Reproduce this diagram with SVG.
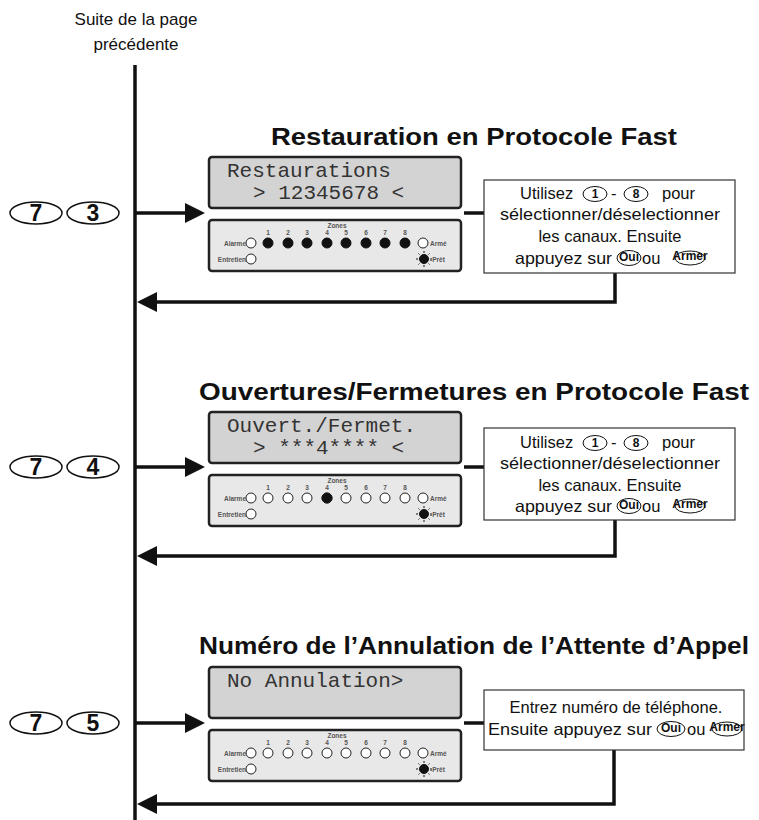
<svg xmlns="http://www.w3.org/2000/svg" xmlns:xlink="http://www.w3.org/1999/xlink" width="759" height="820" viewBox="0 0 759 820">
<style>
.t{font-family:"Liberation Sans",Arial,sans-serif;fill:#111}
.title{font-family:"Liberation Sans",Arial,sans-serif;font-weight:bold;font-size:23px;fill:#111}
.lcd{fill:#d3d3d3;stroke:#222;stroke-width:2.5}
.lcdt{font-family:"Liberation Mono","DejaVu Sans Mono",monospace;font-size:21px;fill:#333}
.pan{fill:#e8e8e8;stroke:#222;stroke-width:2.5}
.sm{font-family:"Liberation Sans",Arial,sans-serif;font-weight:bold;font-size:6.5px;fill:#555}
.led{fill:#fff;stroke:#222;stroke-width:1}
.on{fill:#111;stroke:#111;stroke-width:1}
.box{fill:#fff;stroke:#333;stroke-width:1.2}
.bt{font-family:"Liberation Sans",Arial,sans-serif;font-size:16.5px;fill:#111}
.key{fill:#fff;stroke:#111;stroke-width:1.5}
.kt{font-family:"Liberation Sans",Arial,sans-serif;font-weight:bold;font-size:23px;fill:#111;text-anchor:middle}
.ok{fill:#fff;stroke:#111;stroke-width:1}
.okt{font-family:"Liberation Sans",Arial,sans-serif;font-weight:bold;font-size:12px;fill:#111;text-anchor:middle}
.line{stroke:#111;stroke-width:3.5;fill:none}
.ah{fill:#111}
</style>
<defs>
<g id="panelbase">
<rect class="pan" x="0" y="0" width="252" height="51" rx="3"/>
<text class="sm" x="128" y="8" text-anchor="middle">Zones</text>
<g class="sm" text-anchor="middle">
<text x="59" y="15">1</text><text x="79" y="15">2</text><text x="98" y="15">3</text><text x="118" y="15">4</text>
<text x="137" y="15">5</text><text x="157" y="15">6</text><text x="176" y="15">7</text><text x="196" y="15">8</text>
</g>
<circle class="led" cx="42" cy="23" r="5"/>
<text class="sm" x="37" y="25.5" text-anchor="end">Alarme</text>
<circle class="led" cx="214" cy="23" r="5"/>
<text class="sm" x="221" y="25.5">Armé</text>
<circle class="led" cx="42" cy="39" r="5"/>
<text class="sm" x="37" y="41.5" text-anchor="end">Entretien</text>
<circle class="on" cx="215" cy="39" r="4.5"/>
<g stroke="#111" stroke-width="1">
<line x1="215" y1="31" x2="215" y2="33"/><line x1="215" y1="45" x2="215" y2="47"/>
<line x1="207" y1="39" x2="209" y2="39"/><line x1="221" y1="39" x2="223" y2="39"/>
<line x1="209.5" y1="33.5" x2="210.5" y2="34.5"/><line x1="219.5" y1="43.5" x2="220.5" y2="44.5"/>
<line x1="220.5" y1="33.5" x2="219.5" y2="34.5"/><line x1="209.5" y1="44.5" x2="210.5" y2="43.5"/>
</g>
<text class="sm" x="221" y="41.5">-Prêt</text>
</g>
<g id="ledsoff">
<circle class="led" cx="59" cy="23" r="5"/><circle class="led" cx="79" cy="23" r="5"/><circle class="led" cx="98" cy="23" r="5"/><circle class="led" cx="118" cy="23" r="5"/>
<circle class="led" cx="137" cy="23" r="5"/><circle class="led" cx="157" cy="23" r="5"/><circle class="led" cx="176" cy="23" r="5"/><circle class="led" cx="196" cy="23" r="5"/>
</g>
</defs>

<g id="header">
<text class="t" x="136" y="25" font-size="17" text-anchor="middle">Suite de la page</text>
<text class="t" x="136" y="50" font-size="17" text-anchor="middle">précédente</text>
</g>

<g id="connectors">
<line class="line" x1="135" y1="65" x2="135" y2="820"/>
<line class="line" x1="135" y1="213" x2="190" y2="213"/>
<polygon class="ah" points="185,203 205,213 185,223"/>
<line class="line" x1="464" y1="213" x2="484" y2="213"/>
<polyline class="line" points="615,273 615,302 150,302"/>
<polygon class="ah" points="157,292 137,302 157,312"/>
<line class="line" x1="135" y1="467" x2="190" y2="467"/>
<polygon class="ah" points="185,457 205,467 185,477"/>
<line class="line" x1="464" y1="467" x2="484" y2="467"/>
<polyline class="line" points="615,520 615,556 150,556"/>
<polygon class="ah" points="157,546 137,556 157,566"/>
<line class="line" x1="135" y1="723" x2="190" y2="723"/>
<polygon class="ah" points="185,713 205,723 185,733"/>
<line class="line" x1="464" y1="723" x2="484" y2="723"/>
<polyline class="line" points="614,750 614,804 150,804"/>
<polygon class="ah" points="157,794 137,804 157,814"/>
</g>

<g id="keys73">
<ellipse class="key" cx="36" cy="213" rx="26" ry="11"/><text class="kt" x="36" y="221">7</text>
<ellipse class="key" cx="93" cy="213" rx="26" ry="11"/><text class="kt" x="93" y="221">3</text>
</g>
<g id="title1"><text class="title" x="474" y="145" text-anchor="middle" textLength="406" lengthAdjust="spacingAndGlyphs">Restauration en Protocole Fast</text></g>
<g id="lcd1">
<rect class="lcd" x="209" y="157" width="252" height="51" rx="3"/>
<text class="lcdt" x="227" y="177">Restaurations</text>
<text class="lcdt" x="253" y="199">&gt; 12345678 &lt;</text>
</g>
<g id="panel1" transform="translate(209,220)">
<use href="#panelbase" xlink:href="#panelbase"/>
<g class="on"><circle cx="59" cy="23" r="5"/><circle cx="79" cy="23" r="5"/><circle cx="98" cy="23" r="5"/><circle cx="118" cy="23" r="5"/>
<circle cx="137" cy="23" r="5"/><circle cx="157" cy="23" r="5"/><circle cx="176" cy="23" r="5"/><circle cx="196" cy="23" r="5"/></g>
</g>
<g id="box1">
<rect class="box" x="484" y="180" width="251" height="93"/>
<text class="bt" x="520" y="199">Utilisez</text>
<ellipse class="ok" cx="595" cy="194" rx="12" ry="7.5"/><text class="okt" x="595" y="198">1</text>
<text class="bt" x="611" y="199">-</text>
<ellipse class="ok" cx="636" cy="194" rx="12" ry="7.5"/><text class="okt" x="636" y="198">8</text>
<text class="bt" x="662" y="199">pour</text>
<text class="bt" x="610" y="220" text-anchor="middle" textLength="220" lengthAdjust="spacingAndGlyphs">sélectionner/déselectionner</text>
<text class="bt" x="610" y="242" text-anchor="middle">les canaux. Ensuite</text>
<text class="bt" x="515" y="264" textLength="97" lengthAdjust="spacingAndGlyphs">appuyez sur</text>
<ellipse class="ok" cx="629" cy="258" rx="12" ry="7.5"/><text class="okt" x="629" y="260.5" font-size="7">Oui</text>
<text class="bt" x="642" y="264">ou</text>
<ellipse class="ok" cx="690" cy="258" rx="15" ry="7"/><text class="okt" x="690" y="260" font-size="6">Armer</text>
</g>

<g id="keys74">
<ellipse class="key" cx="36" cy="467" rx="26" ry="11"/><text class="kt" x="36" y="475">7</text>
<ellipse class="key" cx="93" cy="467" rx="26" ry="11"/><text class="kt" x="93" y="475">4</text>
</g>
<g id="title2"><text class="title" x="474" y="400" text-anchor="middle" textLength="550" lengthAdjust="spacingAndGlyphs">Ouvertures/Fermetures en Protocole Fast</text></g>
<g id="lcd2">
<rect class="lcd" x="209" y="412" width="252" height="51" rx="3"/>
<text class="lcdt" x="227" y="432">Ouvert./Fermet.</text>
<text class="lcdt" x="253" y="454">&gt; ***4**** &lt;</text>
</g>
<g id="panel2" transform="translate(209,475)">
<use href="#panelbase" xlink:href="#panelbase"/>
<use href="#ledsoff" xlink:href="#ledsoff"/>
<circle class="on" cx="118" cy="23" r="5"/>
</g>
<g id="box2">
<rect class="box" x="484" y="428" width="251" height="92"/>
<text class="bt" x="520" y="448">Utilisez</text>
<ellipse class="ok" cx="595" cy="443" rx="12" ry="7.5"/><text class="okt" x="595" y="447">1</text>
<text class="bt" x="611" y="448">-</text>
<ellipse class="ok" cx="636" cy="443" rx="12" ry="7.5"/><text class="okt" x="636" y="447">8</text>
<text class="bt" x="662" y="448">pour</text>
<text class="bt" x="610" y="469" text-anchor="middle" textLength="220" lengthAdjust="spacingAndGlyphs">sélectionner/déselectionner</text>
<text class="bt" x="610" y="491" text-anchor="middle">les canaux. Ensuite</text>
<text class="bt" x="515" y="512" textLength="97" lengthAdjust="spacingAndGlyphs">appuyez sur</text>
<ellipse class="ok" cx="629" cy="506" rx="12" ry="7.5"/><text class="okt" x="629" y="508.5" font-size="7">Oui</text>
<text class="bt" x="642" y="512">ou</text>
<ellipse class="ok" cx="690" cy="506" rx="15" ry="7"/><text class="okt" x="690" y="508" font-size="6">Armer</text>
</g>

<g id="keys75">
<ellipse class="key" cx="36" cy="723" rx="26" ry="11"/><text class="kt" x="36" y="731">7</text>
<ellipse class="key" cx="93" cy="723" rx="26" ry="11"/><text class="kt" x="93" y="731">5</text>
</g>
<g id="title3"><text class="title" x="474" y="654" text-anchor="middle" textLength="550" lengthAdjust="spacingAndGlyphs">Numéro de l’Annulation de l’Attente d’Appel</text></g>
<g id="lcd3">
<rect class="lcd" x="209" y="667" width="252" height="51" rx="3"/>
<text class="lcdt" x="227" y="687">No Annulation&gt;</text>
</g>
<g id="panel3" transform="translate(209,730)">
<use href="#panelbase" xlink:href="#panelbase"/>
<use href="#ledsoff" xlink:href="#ledsoff"/>
</g>
<g id="box3">
<rect class="box" x="484" y="690" width="260" height="60"/>
<text class="bt" x="616" y="713" text-anchor="middle">Entrez numéro de téléphone.</text>
<text class="bt" x="488" y="735" textLength="164" lengthAdjust="spacingAndGlyphs">Ensuite appuyez sur</text>
<ellipse class="ok" cx="671" cy="729" rx="14" ry="7.5"/><text class="okt" x="671" y="731.5" font-size="7">Oui</text>
<text class="bt" x="687" y="735">ou</text>
<ellipse class="ok" cx="727" cy="729" rx="15" ry="7"/><text class="okt" x="727" y="731" font-size="6">Armer</text>
</g>
</svg>
